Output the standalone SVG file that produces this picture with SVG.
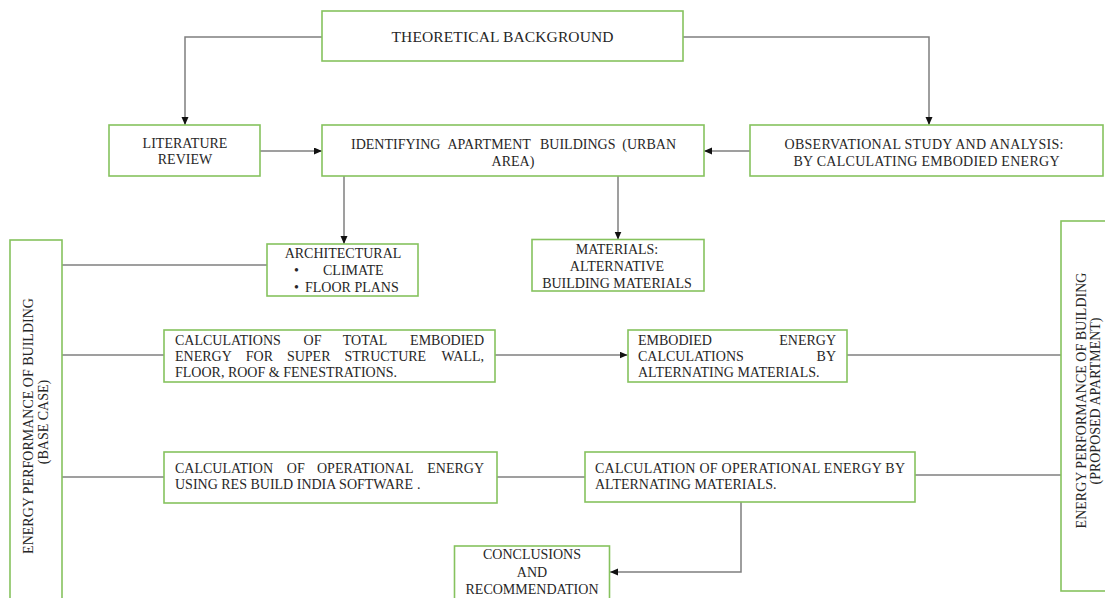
<svg xmlns="http://www.w3.org/2000/svg" width="1105" height="598" viewBox="0 0 1105 598">
<defs>
<style>
.box{fill:#fff;stroke:#86c25e;stroke-width:1.6}
.t{font-family:"Liberation Serif","Times New Roman",serif;font-size:14px;fill:#262626}
.big{font-size:15.5px}
.m{text-anchor:middle}
.e{text-anchor:end}
.c{fill:none;stroke:#7f7f7f;stroke-width:1.5}
</style>
<marker id="ah" markerUnits="userSpaceOnUse" markerWidth="9" markerHeight="8" refX="8" refY="3.5" orient="auto">
<path d="M0,0 L8,3.5 L0,7 z" fill="#111"/>
</marker>
</defs>
<rect width="1105" height="598" fill="#fff"/>
<g id="connectors">
<path class="c" d="M322,37 H185 V125" marker-end="url(#ah)"/>
<path class="c" d="M683,37 H929 V125" marker-end="url(#ah)"/>
<path class="c" d="M260,151 H322" marker-end="url(#ah)"/>
<path class="c" d="M750,151 H704" marker-end="url(#ah)"/>
<path class="c" d="M344,176 V244" marker-end="url(#ah)"/>
<path class="c" d="M618,176 V239.5" marker-end="url(#ah)"/>
<path class="c" d="M62,265 H267"/>
<path class="c" d="M62,355 H164"/>
<path class="c" d="M495,355 H627.5" marker-end="url(#ah)"/>
<path class="c" d="M847,355 H1061"/>
<path class="c" d="M62,477 H164"/>
<path class="c" d="M497,477 H585"/>
<path class="c" d="M915,475 H1061"/>
<path class="c" d="M741,502 V572 H610" marker-end="url(#ah)"/>
</g>
<g id="theoretical">
<rect class="box" x="322" y="11" width="361" height="50"/>
<text class="t big m" x="502.5" y="42" textLength="222">THEORETICAL BACKGROUND</text>
</g>
<g id="literature">
<rect class="box" x="109" y="125" width="151" height="51"/>
<text class="t m" x="185" y="148">LITERATURE</text>
<text class="t m" x="185" y="164">REVIEW</text>
</g>
<g id="identifying">
<rect class="box" x="322" y="125" width="382" height="51"/>
<text class="t" x="351" y="149">IDENTIFYING</text>
<text class="t" x="447.4" y="149">APARTMENT</text>
<text class="t" x="540" y="149">BUILDINGS</text>
<text class="t e" x="676" y="149">(URBAN</text>
<text class="t m" x="513" y="166">AREA)</text>
</g>
<g id="observational">
<rect class="box" x="750" y="125" width="353" height="51"/>
<text class="t m" x="924" y="149" textLength="279">OBSERVATIONAL STUDY AND ANALYSIS:</text>
<text class="t m" x="926.5" y="166" textLength="266">BY CALCULATING EMBODIED ENERGY</text>
</g>
<g id="architectural">
<rect class="box" x="267" y="244" width="151" height="52"/>
<text class="t m" x="343" y="258">ARCHITECTURAL</text>
<text class="t" x="294" y="275">•</text>
<text class="t" x="323" y="275">CLIMATE</text>
<text class="t" x="294" y="292">•</text>
<text class="t" x="305" y="292">FLOOR PLANS</text>
</g>
<g id="materials">
<rect class="box" x="532" y="239.5" width="172" height="51.5"/>
<text class="t m" x="617" y="254">MATERIALS:</text>
<text class="t m" x="617" y="271">ALTERNATIVE</text>
<text class="t m" x="617" y="288">BUILDING MATERIALS</text>
</g>
<g id="base-case">
<rect class="box" x="10" y="240" width="52" height="370"/>
<text class="t m" transform="translate(33,426) rotate(-90)" x="0" y="0">ENERGY PERFORMANCE OF BUILDING</text>
<text class="t m" transform="translate(48,422) rotate(-90)" x="0" y="0">(BASE CASE)</text>
</g>
<g id="proposed">
<rect class="box" x="1061" y="221" width="60" height="370"/>
<text class="t m" transform="translate(1086,400.5) rotate(-90)" x="0" y="0">ENERGY PERFORMANCE OF BUILDING</text>
<text class="t m" transform="translate(1100,401) rotate(-90)" x="0" y="0">(PROPOSED APARTMENT)</text>
</g>
<g id="embodied-total">
<rect class="box" x="164" y="330" width="331" height="52"/>
<text class="t" x="175" y="345">CALCULATIONS</text>
<text class="t" x="303.6" y="345">OF</text>
<text class="t" x="342.8" y="345">TOTAL</text>
<text class="t e" x="484" y="345">EMBODIED</text>
<text class="t" x="175" y="361">ENERGY</text>
<text class="t" x="245.8" y="361">FOR</text>
<text class="t" x="286.9" y="361">SUPER</text>
<text class="t" x="344.5" y="361">STRUCTURE</text>
<text class="t e" x="484" y="361">WALL,</text>
<text class="t" x="175" y="377">FLOOR, ROOF &amp; FENESTRATIONS.</text>
</g>
<g id="embodied-alt">
<rect class="box" x="628" y="330" width="219" height="52"/>
<text class="t" x="638" y="345">EMBODIED</text>
<text class="t e" x="836" y="345">ENERGY</text>
<text class="t" x="638" y="361">CALCULATIONS</text>
<text class="t e" x="836" y="361">BY</text>
<text class="t" x="638" y="377">ALTERNATING MATERIALS.</text>
</g>
<g id="operational-base">
<rect class="box" x="164" y="452" width="333" height="51"/>
<text class="t" x="175" y="473">CALCULATION</text>
<text class="t" x="286.8" y="473">OF</text>
<text class="t" x="317" y="473">OPERATIONAL</text>
<text class="t e" x="484" y="473">ENERGY</text>
<text class="t" x="175" y="489">USING RES BUILD INDIA SOFTWARE</text>
<text class="t" x="417" y="489">.</text>
</g>
<g id="operational-alt">
<rect class="box" x="585" y="452" width="330" height="50"/>
<text class="t" x="595" y="473" textLength="310">CALCULATION OF OPERATIONAL ENERGY BY</text>
<text class="t" x="595" y="489">ALTERNATING MATERIALS.</text>
</g>
<g id="conclusions">
<rect class="box" x="454.5" y="546" width="155" height="60"/>
<text class="t m" x="532" y="559">CONCLUSIONS</text>
<text class="t m" x="532" y="577">AND</text>
<text class="t m" x="532" y="594">RECOMMENDATION</text>
</g>
</svg>
